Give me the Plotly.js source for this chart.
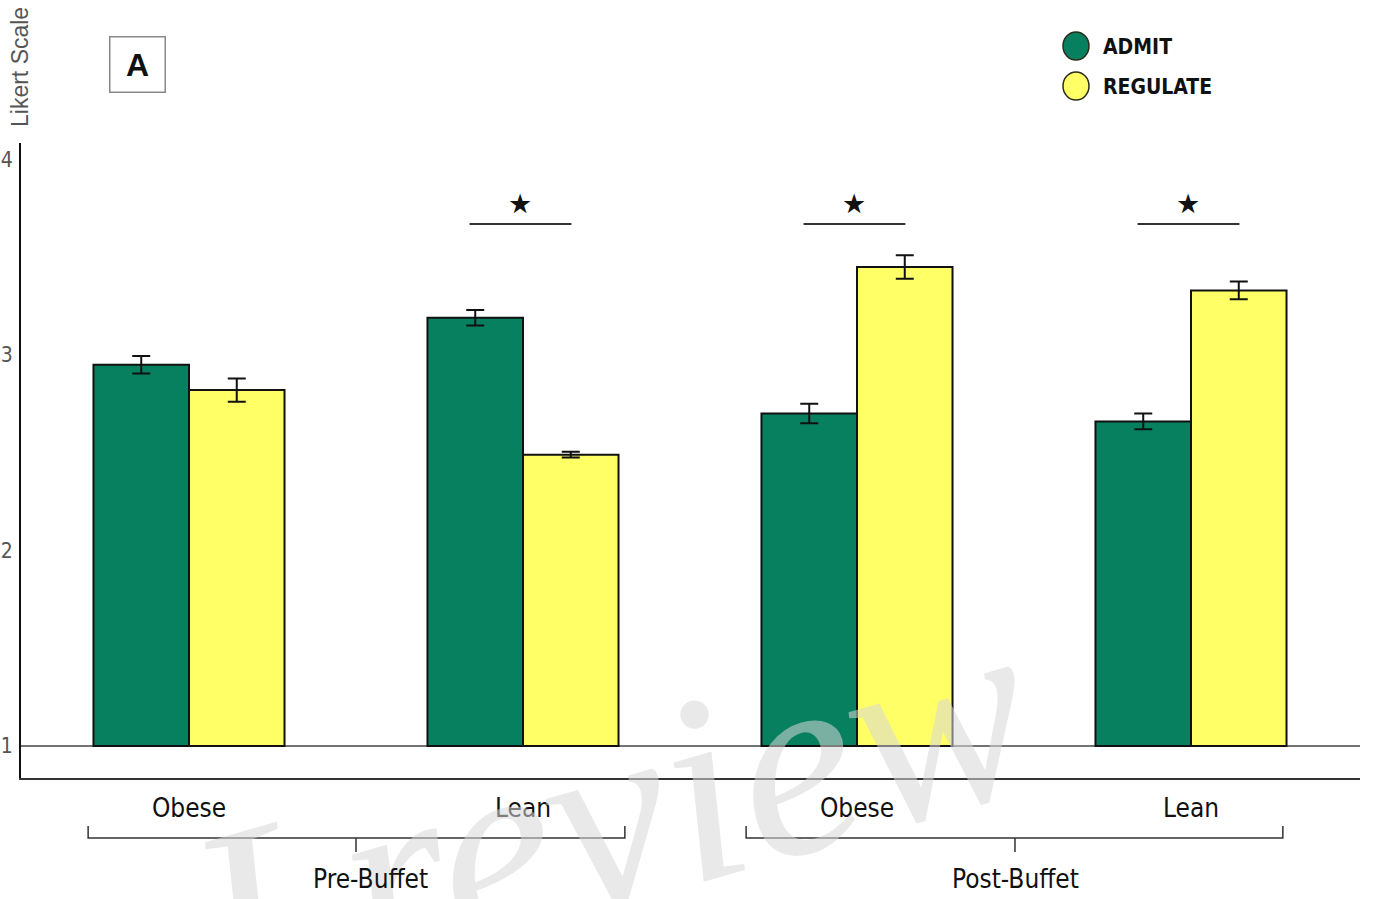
<!DOCTYPE html>
<html>
<head>
<meta charset="utf-8">
<script src="https://cdn.plot.ly/plotly-3.0.1.min.js"></script>
<style>html,body{margin:0;padding:0;background:#fff;}#chart{width:1376px;height:899px;}</style>
</head>
<body>
<div id="chart"></div>
<script>
// ---- data ----
const categories = ["Obese", "Lean", "Obese", "Lean"];
const phases = ["Pre-Buffet", "Post-Buffet"];
const seriesNames = ["ADMIT", "REGULATE"];
const admitValues = [2.95, 3.19, 2.70, 2.66];
const admitErrors = [0.045, 0.04, 0.05, 0.04];
const regulateValues = [2.82, 2.49, 3.45, 3.33];
const regulateErrors = [0.06, 0.015, 0.06, 0.045];
const significant = [false, true, true, true];
const yTicks = [1, 2, 3, 4];

const GREEN = "#07805f";
const YELLOW = "#ffff66";
const BASE = 1;
const narrow = "'DejaVu Sans Condensed', 'Liberation Sans', sans-serif";

const xIdx = categories.map((_, i) => i);

function barTrace(name, vals, errs, color) {
  return {
    type: "bar",
    name: name,
    x: xIdx,
    y: vals.map(v => v - BASE),
    base: BASE,
    marker: {color: color, line: {color: "#111", width: 2}},
    error_y: {type: "data", array: errs, visible: true, color: "#111", thickness: 2, width: 9},
    showlegend: false,
    hoverinfo: "skip"
  };
}

const traces = [
  barTrace(seriesNames[0], admitValues, admitErrors, GREEN),
  barTrace(seriesNames[1], regulateValues, regulateErrors, YELLOW)
];

// pixel helpers for paper coords (plot area: x 21..1360, y 143..778)
const L = 21, R = 1360, T = 143, B = 778;
const px = x => (x - L) / (R - L);
const py = y => (B - y) / (B - T);

const shapes = [];
const annotations = [];
const ann = o => annotations.push(Object.assign({showarrow: false, xanchor: "center", yanchor: "middle"}, o));

// watermark
ann({
  xref: "paper", yref: "paper", x: px(610), y: py(814),
  text: "Lreview", textangle: -16,
  font: {family: "'Liberation Serif', 'DejaVu Serif', serif", size: 268, style: "italic", color: "rgba(215,215,215,0.55)"}
});

// baseline at y = 1
shapes.push({type: "line", xref: "paper", yref: "y", x0: 0, x1: 1, y0: BASE, y1: BASE,
  line: {color: "#444", width: 1.5}, layer: "below"});

// significance markers
significant.forEach((s, i) => {
  if (!s) return;
  shapes.push({type: "line", xref: "x", yref: "y", x0: i - 0.16, x1: i + 0.145, y0: 3.67, y1: 3.67,
    line: {color: "#333", width: 2}});
  ann({xref: "x", yref: "y", x: i - 0.01, y: 3.775, text: "★",
    font: {family: "DejaVu Sans", size: 27, color: "#111"}});
});

// braces below the axis
const braces = [[-0.302, 1.305, 0.5], [1.668, 3.275, 2.473]];
const yTop = py(826), yMid = py(838), yBot = py(852);
braces.forEach(([a, b, c], k) => {
  shapes.push({type: "path", xref: "x", yref: "paper",
    path: `M ${a},${yTop} L ${a},${yMid} L ${b},${yMid} L ${b},${yTop} M ${c},${yMid} L ${c},${yBot}`,
    line: {color: "#333", width: 1.5}});
  ann({xref: "x", yref: "paper", x: [0.542, 2.476][k], y: py(879), text: phases[k],
    font: {family: narrow, size: 26, color: "#111"}});
});

// panel letter
ann({xref: "paper", yref: "paper", x: px(137), y: py(64), text: "<b>A</b>",
  width: 54, height: 54, borderpad: 0, bordercolor: "#888", borderwidth: 1.5,
  font: {family: "'Liberation Sans', Arial, sans-serif", size: 32, color: "#111"}});

// y axis title
ann({xref: "paper", yref: "paper", x: px(20), y: py(67), text: "Likert Scale", textangle: -90,
  font: {family: "'Liberation Sans', Arial, sans-serif", size: 23, color: "#555"}});

// custom legend
const legendColors = [GREEN, YELLOW];
const legendY = [46, 86];
seriesNames.forEach((n, i) => {
  shapes.push({type: "circle", xref: "paper", yref: "paper",
    x0: px(1063), x1: px(1089), y0: py(legendY[i] + 14), y1: py(legendY[i] - 14),
    fillcolor: legendColors[i], line: {color: "#2b2b1a", width: 1.5}});
  ann({xref: "paper", yref: "paper", x: px(1101), y: py(legendY[i] + 1), xanchor: "left",
    text: "<b>" + n + "</b>",
    font: {family: narrow, size: 21, color: "#111"}});
});

const layout = {
  width: 1376, height: 899,
  margin: {l: L, r: 1376 - R, t: T, b: 899 - B},
  paper_bgcolor: "#fff", plot_bgcolor: "#fff",
  barmode: "group", bargap: 0.428, bargroupgap: 0,
  showlegend: false,
  xaxis: {
    range: [-0.503, 3.506],
    tickvals: xIdx, ticktext: categories,
    showgrid: false, zeroline: false,
    showline: true, linecolor: "#333", linewidth: 2,
    ticks: "", ticklabelstandoff: 6,
    tickfont: {family: narrow, size: 26, color: "#111"}
  },
  yaxis: {
    range: [0.836, 4.084],
    tickvals: yTicks, ticktext: yTicks.map(String),
    showgrid: false, zeroline: false,
    showline: true, linecolor: "#111", linewidth: 2,
    ticks: "", ticklabelstandoff: 2,
    tickfont: {family: narrow, size: 21, color: "#555"}
  },
  shapes: shapes,
  annotations: annotations
};

Plotly.newPlot("chart", traces, layout, {displayModeBar: false, staticPlot: true});
</script>
</body>
</html>
